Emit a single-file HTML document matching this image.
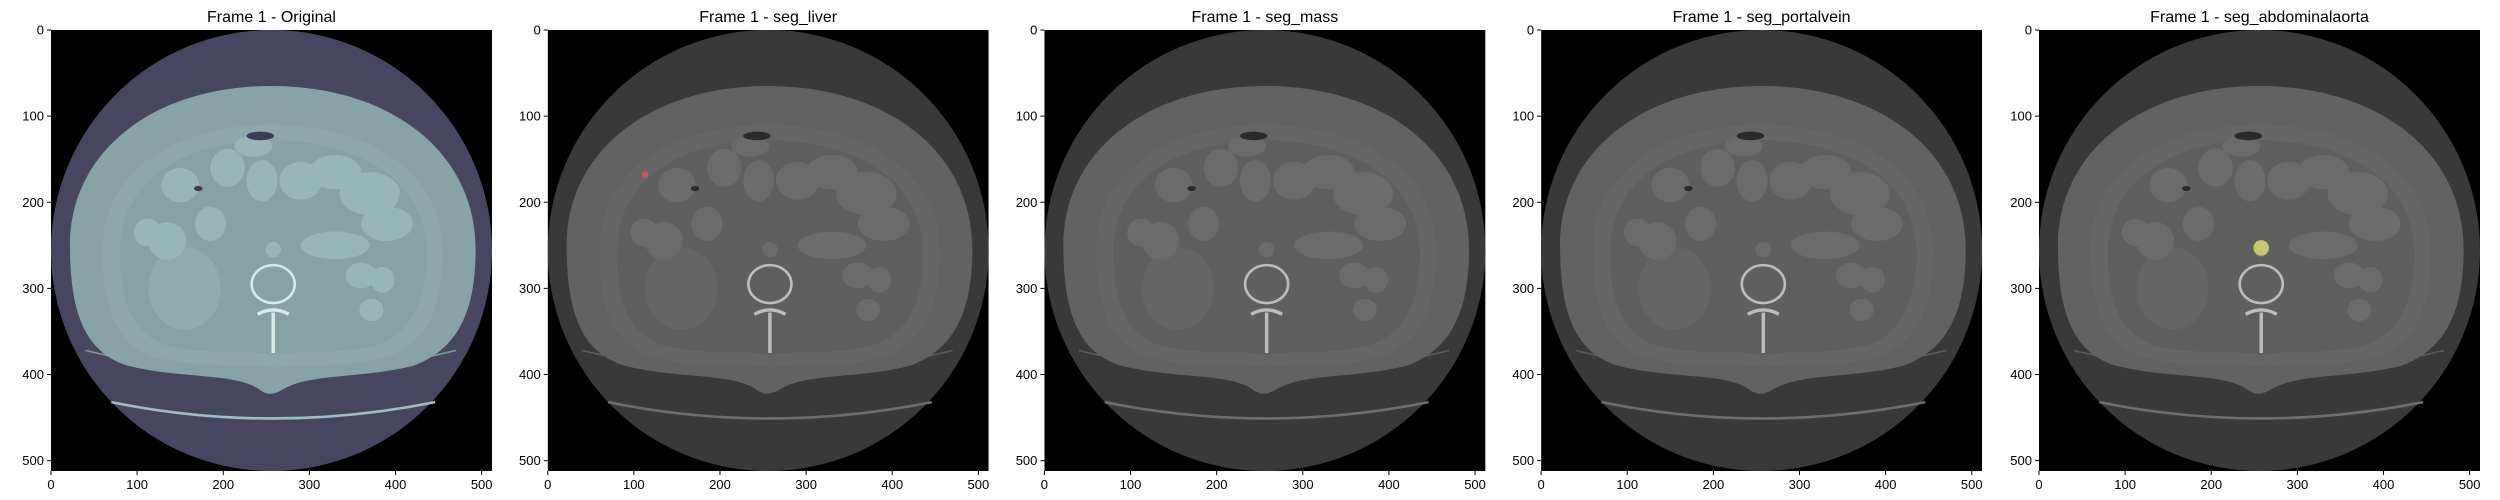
<!DOCTYPE html>
<html><head><meta charset="utf-8">
<style>
html,body{margin:0;padding:0;background:#fff;width:2500px;height:500px;overflow:hidden;font-family:"Liberation Sans","DejaVu Sans",sans-serif;}
svg{position:absolute;left:0;top:0;}
</style></head>
<body>
<svg id="fig" width="2500" height="500"></svg>
<script>
const panelTitles = ["Frame 1 - Original","Frame 1 - seg_liver","Frame 1 - seg_mass","Frame 1 - seg_portalvein","Frame 1 - seg_abdominalaorta"];
const panelLefts = [51, 547.7, 1044.4, 1541.1, 2039];
const tickValues = [0,100,200,300,400,500];
const imageExtent = [0, 512];
const overlayPanels = [1, 4];
const overlayX = [113, 258];
const overlayY = [168, 253];
const overlayR = [4, 9];
const overlayColors = ["#c85a5a", "#c9c96e"];

const TOP = 30, SIZE = 441;
const NS = "http://www.w3.org/2000/svg";
const fig = document.getElementById('fig');
function el(tag, attrs, parent){ const e=document.createElementNS(NS,tag); for(const k in attrs) e.setAttribute(k,attrs[k]); (parent||fig).appendChild(e); return e; }

const bonePal = {fov:"#474661", skin:"#7f979c", fat:"#88a3a7", wall:"#8ca8ab", inner:"#85a2a6", bowel:"#97b6b7", bone:"#d6ecea", air:"#3d3a55", table:"#9cc0c0"};
const grayPal = {fov:"#393939", skin:"#5a5a5a", fat:"#626262", wall:"#666666", inner:"#5f5f5f", bowel:"#6b6b6b", bone:"#bdbdbd", air:"#2a2a2a", table:"#6e6e6e"};

function anatomy(g, p){
  el('circle',{cx:256,cy:256,r:256,fill:p.fov},g);
  el('path',{d:"M70 432 Q256 470 446 432",stroke:p.table,"stroke-width":3,fill:"none"},g);
  el('path',{d:"M40 372 Q256 425 470 372",stroke:p.skin,"stroke-width":2,fill:"none"},g);
  el('path',{d:"M22 250 C22 140 120 65 256 65 C392 65 493 140 493 255 C493 330 470 372 420 390 C360 405 300 398 268 418 C258 424 250 424 240 416 C210 398 150 405 90 390 C40 375 22 330 22 250 Z",fill:p.fat},g);
  el('path',{d:"M60 255 C60 160 150 110 256 110 C362 110 455 160 455 258 C455 330 430 372 380 382 C320 395 290 385 262 392 C240 385 190 395 130 382 C80 372 60 330 60 255 Z",fill:p.wall},g);
  el('path',{d:"M80 258 C80 170 160 128 256 128 C352 128 436 170 436 260 C436 325 410 360 370 368 C320 378 290 370 258 378 C230 370 190 378 140 368 C100 358 80 325 80 258 Z",fill:p.inner},g);
  const loops=[[150,180,22,20],[205,160,20,22],[245,175,18,24],[185,225,18,20],[135,245,22,22],[112,235,16,16],[290,175,25,22],[330,165,30,20],[370,190,35,25],[390,225,30,20],[330,250,40,16],[360,285,18,15],[385,290,14,15],[372,325,14,13],[235,135,22,12]];
  loops.forEach(l=>el('ellipse',{cx:l[0],cy:l[1],rx:l[2],ry:l[3],fill:p.bowel},g));
  el('ellipse',{cx:155,cy:300,rx:42,ry:48,fill:p.bowel,opacity:0.5},g);
  el('circle',{cx:258,cy:255,r:9,fill:p.bowel},g);
  el('ellipse',{cx:258,cy:295,rx:25,ry:22,fill:p.inner,stroke:p.bone,"stroke-width":3},g);
  el('path',{d:"M240 330 Q258 320 276 330 M258 328 L258 375",stroke:p.bone,"stroke-width":4,fill:"none"},g);
  el('ellipse',{cx:243,cy:123,rx:16,ry:5,fill:p.air},g);
  el('ellipse',{cx:171,cy:184,rx:5,ry:3,fill:p.air},g);
}

panelTitles.forEach((t,i)=>{
  const L = panelLefts[i];
  const s = SIZE/(imageExtent[1]-imageExtent[0]);
  const xs = v => L + v*s;
  const ys = v => TOP + v*s;
  const title = el('text',{x:L+SIZE/2,y:22,"text-anchor":"middle","font-size":16,fill:"#000"});
  title.textContent=t;
  
  
  const g = el('g',{transform:`translate(${L},${TOP}) scale(${s})`});
  
  
  const cid='clip'+i;
  const cp=el('clipPath',{id:cid},g); el('rect',{x:0,y:0,width:512,height:512},cp);
  const inner=el('g',{"clip-path":`url(#${cid})`},g);
  el('rect',{x:0,y:0,width:512,height:512,fill:"#000"},inner);
  anatomy(inner, i===0?bonePal:grayPal);
  overlayPanels.forEach((pi,k)=>{
    if(pi!==i) return;
    const m=el('circle',{cx:overlayX[k],cy:overlayY[k],r:overlayR[k],fill:overlayColors[k]},inner);
    
    
  });
  tickValues.forEach(v=>{
    el('line',{x1:L-4,x2:L,y1:ys(v),y2:ys(v),stroke:"#000","stroke-width":1});
    const ty=el('text',{x:L-7,y:ys(v)+4.5,"text-anchor":"end","font-size":13,fill:"#000"});
    ty.textContent=v;
    
    
    el('line',{x1:xs(v),x2:xs(v),y1:TOP+SIZE,y2:TOP+SIZE+4,stroke:"#000","stroke-width":1});
    const tx=el('text',{x:xs(v),y:TOP+SIZE+18,"text-anchor":"middle","font-size":13,fill:"#000"});
    tx.textContent=v;
    
    
  });
});
</script>
</body></html>
